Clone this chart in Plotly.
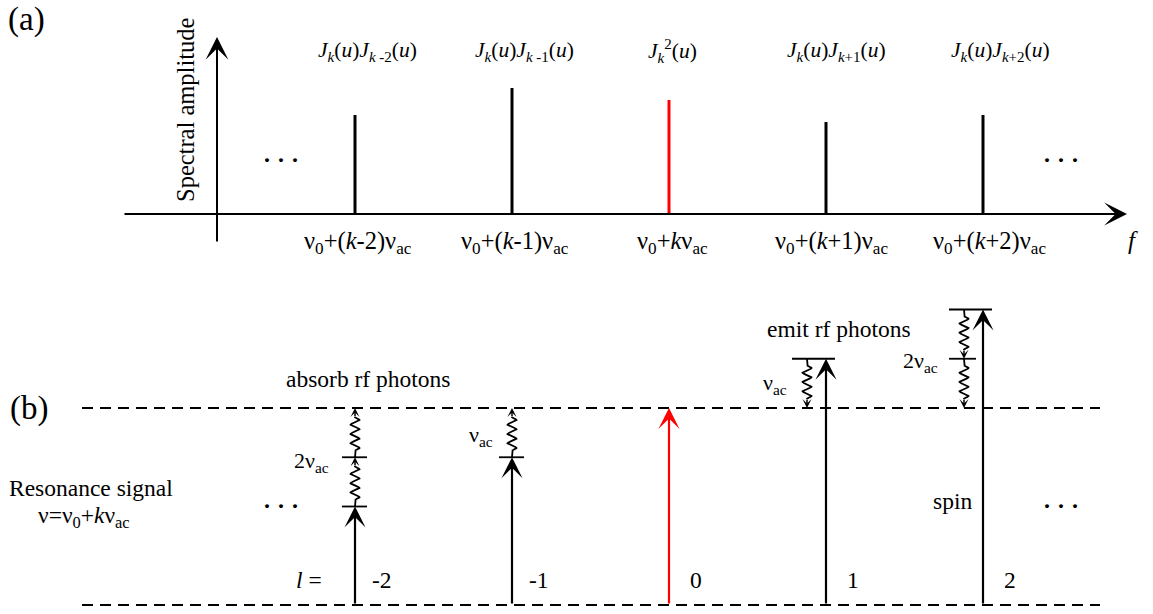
import numpy as np
import plotly.graph_objects as go

# ---- spectrum (panel a) ----
orders = [-2, -1, 0, 1, 2]
amplitudes = [0.99, 1.26, 1.14, 0.92, 0.99]
amp_labels = [
    "<i>J</i><sub><i>k</i></sub>(<i>u</i>)<i>J</i><sub><i>k</i> -2</sub>(<i>u</i>)",
    "<i>J</i><sub><i>k</i></sub>(<i>u</i>)<i>J</i><sub><i>k</i> -1</sub>(<i>u</i>)",
    "<i>J</i><sub><i>k</i></sub><sup>2</sup>(<i>u</i>)",
    "<i>J</i><sub><i>k</i></sub>(<i>u</i>)<i>J</i><sub><i>k</i>+1</sub>(<i>u</i>)",
    "<i>J</i><sub><i>k</i></sub>(<i>u</i>)<i>J</i><sub><i>k</i>+2</sub>(<i>u</i>)",
]
freq_labels = [
    "ν<sub>0</sub>+(<i>k</i>-2)ν<sub>ac</sub>",
    "ν<sub>0</sub>+(<i>k</i>-1)ν<sub>ac</sub>",
    "ν<sub>0</sub>+<i>k</i>ν<sub>ac</sub>",
    "ν<sub>0</sub>+(<i>k</i>+1)ν<sub>ac</sub>",
    "ν<sub>0</sub>+(<i>k</i>+2)ν<sub>ac</sub>",
]

# ---- energy diagram (panel b), levels in units of nu_ac ----
order_labels = ["-2", "-1", "0", "1", "2"]
ground_level = 0
resonance_level = 4
spin_levels = [2, 3, 4, 5, 6]
photon_labels = {-2: "2ν<sub>ac</sub>", -1: "ν<sub>ac</sub>",
                 1: "ν<sub>ac</sub>", 2: "2ν<sub>ac</sub>"}

W, H = 1153, 614
X0, DX = 669, 157          # pixel position of order 0 and spacing per order
TOP_BASE, TOP_SCALE = 214, 100.0
BOT_BASE, BOT_SCALE = 605, 49.25
SPLIT = 270                 # pixel row separating the two panels

SERIF = "Liberation Serif, Times New Roman, serif"
RED = "#ff0000"
BLACK = "#000000"
BODY = 23.5


def lx(px):
    return (px - X0) / DX


def ta(py):
    return (TOP_BASE - py) / TOP_SCALE


def be(py):
    return (BOT_BASE - py) / BOT_SCALE


fig = go.Figure()
annotations = []
shapes = []


def text(x, y, s, size=20, yref="y", xref="x", xanchor="center", angle=0):
    annotations.append(dict(x=x, y=y, xref=xref, yref=yref, text=s, showarrow=False,
                            xanchor=xanchor, yanchor="middle", textangle=angle,
                            font=dict(family=SERIF, size=size, color=BLACK)))


def arrow(x, y, ax, ay, yref, color=BLACK, width=2, size=1.0, head=3):
    annotations.append(dict(x=x, y=y, ax=ax, ay=ay, xref="x", yref=yref,
                            axref="x", ayref=yref, text="", showarrow=True,
                            arrowhead=head, arrowsize=size, arrowwidth=width,
                            arrowcolor=color, standoff=0, startstandoff=0))


# ---------------- panel (a) ----------------
# axes with arrows
arrow(lx(1127), 0, lx(123), 0, "y", width=2, size=1.9)
arrow(lx(217), ta(37), lx(217), ta(243), "y", width=2, size=1.9)

for l, a in zip(orders, amplitudes):
    fig.add_trace(go.Scatter(x=[l, l], y=[0, a], mode="lines", xaxis="x", yaxis="y",
                             line=dict(color=RED if l == 0 else BLACK, width=3),
                             hoverinfo="skip", showlegend=False))

label_offsets = [12, 12, 3, 10, 17]
for l, s, off in zip(orders, amp_labels, label_offsets):
    text(l + off / DX, ta(51), s, size=21.5)

freq_offsets = [3, 3, 3, 5, 6]
for l, s, off in zip(orders, freq_labels, freq_offsets):
    text(l + off / DX, ta(242), s, size=24.5)

text(lx(1133), ta(240), "<i>f</i>", size=25)
text(lx(281), ta(160), "<b>· · ·</b>", size=24)
text(lx(1061), ta(160), "<b>· · ·</b>", size=24)
text(lx(185), ta(110), "Spectral amplitude", size=24.5, angle=-90)
text(0.005, 1 - 19 / H, "(a)", size=33, xref="paper", yref="paper", xanchor="left")

# ---------------- panel (b) ----------------
for lvl in (ground_level, resonance_level):
    shapes.append(dict(type="line", xref="x", yref="y2", x0=lx(82), x1=lx(1100),
                       y0=lvl, y1=lvl, line=dict(color=BLACK, width=2, dash="11px,7px")))


def squiggle(xc, y_from, y_to, amp=4.5 / DX, cycles=3.5):
    step = y_to - y_from
    s = np.linspace(0.0, 0.82, 240)
    a, b = 0.14, 0.80
    phase = np.clip((s - a) / (b - a), 0, 1)
    x = xc + np.where((s > a) & (s < b), amp * np.sin(2 * np.pi * cycles * phase), 0.0)
    y = y_from + step * s
    fig.add_trace(go.Scatter(x=x, y=y, mode="lines", xaxis="x", yaxis="y2",
                             line=dict(color=BLACK, width=1.8), hoverinfo="skip",
                             showlegend=False))
    arrow(xc, y_to, xc, y_from + step * 0.80, "y2", width=1.5, size=1.0)


for l, top, lab in zip(orders, spin_levels, order_labels):
    col = RED if l == 0 else BLACK
    arrow(l, top, l, ground_level, "y2", color=col, width=2.2, size=1.6)
    # rf photon steps between the spin level and the resonance level
    n = resonance_level - top
    if n > 0:      # absorbed photons: climb from spin level up to resonance
        for i in range(n):
            lo = top + i
            shapes.append(dict(type="line", xref="x", yref="y2", x0=l - 13 / DX,
                               x1=l + 12 / DX, y0=lo, y1=lo,
                               line=dict(color=BLACK, width=1.8)))
            squiggle(l, lo, lo + 1)
    elif n < 0:    # emitted photons: fall from spin level down to resonance
        xw = l - 19 / DX
        for i in range(-n):
            hi = top - i
            right = l + 9 / DX if i == 0 else l - 7 / DX
            shapes.append(dict(type="line", xref="x", yref="y2", x0=l - 34 / DX,
                               x1=right, y0=hi, y1=hi,
                               line=dict(color=BLACK, width=1.8)))
            squiggle(xw, hi, hi - 1)
    text(l + 27 / DX, be(580), lab, size=BODY, yref="y2")

# photon energy labels
text(lx(331), be(462), photon_labels[-2], size=22, yref="y2", xanchor="right")
text(lx(495), be(436), photon_labels[-1], size=22, yref="y2", xanchor="right")
text(lx(789), be(384), photon_labels[1], size=22, yref="y2", xanchor="right")
text(lx(940), be(362), photon_labels[2], size=22, yref="y2", xanchor="right")

text(lx(309), be(580), "<i>l</i> =", size=BODY, yref="y2")
text(lx(368), be(379), "absorb rf photons", size=BODY, yref="y2")
text(lx(839), be(329), "emit rf photons", size=BODY, yref="y2")
text(lx(952), be(501), "spin", size=BODY, yref="y2")
text(lx(91), be(488), "Resonance signal", size=BODY, yref="y2")
text(lx(84), be(517), "ν=ν<sub>0</sub>+<i>k</i>ν<sub>ac</sub>", size=BODY, yref="y2")
text(lx(281), be(506), "<b>· · ·</b>", size=24, yref="y2")
text(lx(1061), be(506), "<b>· · ·</b>", size=24, yref="y2")
text(0.007, 1 - 408 / H, "(b)", size=33, xref="paper", yref="paper", xanchor="left")

split = 1 - SPLIT / H
fig.update_layout(
    width=W, height=H, autosize=False,
    margin=dict(l=0, r=0, t=0, b=0),
    paper_bgcolor="white", plot_bgcolor="white",
    xaxis=dict(range=[lx(0), lx(W)], visible=False, fixedrange=True),
    yaxis=dict(domain=[split, 1], range=[ta(SPLIT), ta(0)], visible=False, fixedrange=True),
    yaxis2=dict(domain=[0, split], range=[be(H), be(SPLIT)], visible=False,
                anchor="x", fixedrange=True),
    annotations=annotations, shapes=shapes,
    showlegend=False,
)

fig.write_html("out.html", config={"displayModeBar": False})
